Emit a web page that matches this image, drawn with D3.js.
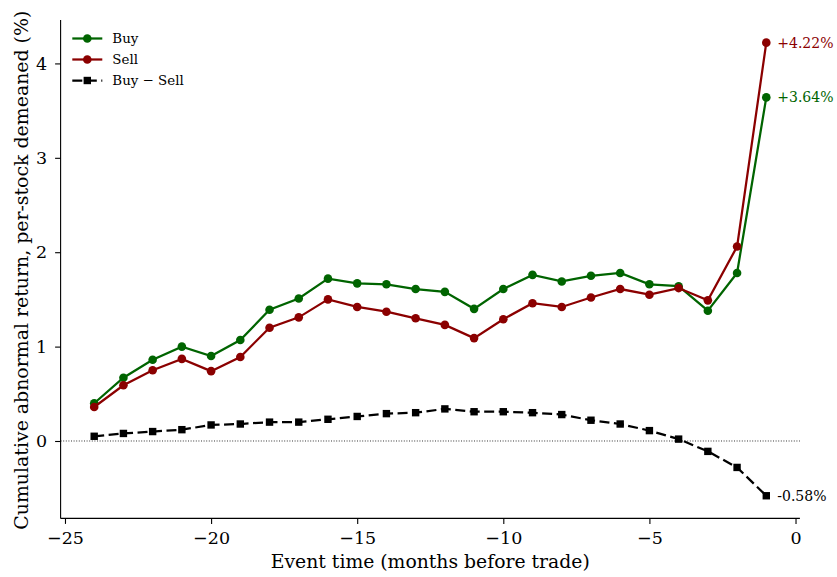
<!DOCTYPE html>
<html><head><meta charset="utf-8">
<script src="https://cdn.jsdelivr.net/npm/d3@7"></script>
<style>body{margin:0;background:#fff}svg{display:block}text{font-family:"DejaVu Serif",serif}</style>
</head><body>
<div id="chart"></div>
<script>
const months = [-24,-23,-22,-21,-20,-19,-18,-17,-16,-15,-14,-13,-12,-11,-10,-9,-8,-7,-6,-5,-4,-3,-2,-1];
const buy  = [0.40,0.67,0.86,1.00,0.90,1.07,1.39,1.51,1.72,1.67,1.66,1.61,1.58,1.40,1.61,1.76,1.69,1.75,1.78,1.66,1.64,1.38,1.78,3.64];
const sell = [0.36,0.59,0.75,0.87,0.74,0.89,1.20,1.31,1.50,1.42,1.37,1.30,1.23,1.09,1.29,1.46,1.42,1.52,1.61,1.55,1.62,1.49,2.06,4.22];
const diff = [0.05,0.08,0.10,0.12,0.17,0.18,0.20,0.20,0.23,0.26,0.29,0.30,0.34,0.31,0.31,0.30,0.28,0.22,0.18,0.11,0.02,-0.11,-0.28,-0.58];
const xTicks = [-25,-20,-15,-10,-5,0];
const yTicks = [0,1,2,3,4];
const seriesNames = ["Buy","Sell","Buy \u2212 Sell"];
const endLabels = ["+3.64%","+4.22%","-0.58%"];

const W = 837, H = 577;
const svg = d3.select("#chart").append("svg").attr("width", W).attr("height", H);
const x = d3.scaleLinear().domain([-25.15, 0.15]).range([60.6, 799.9]);
const y = d3.scaleLinear().domain([-0.82, 4.46]).range([518.4, 20]);

// zero line
svg.append("line").attr("x1", x(-25.15)).attr("x2", x(0.15)).attr("y1", y(0)).attr("y2", y(0))
  .attr("stroke", "#000").attr("stroke-width", 0.8).attr("stroke-dasharray", "1,1.6");

// axes
const xa = svg.append("g").attr("transform", `translate(0,${y(-0.82)})`)
  .call(d3.axisBottom(x).tickValues(xTicks).tickSize(5.5).tickPadding(7.5).tickFormat(d => d < 0 ? "\u2212" + Math.abs(d) : String(d)));
const ya = svg.append("g").attr("transform", `translate(${x(-25.15)},0)`)
  .call(d3.axisLeft(y).tickValues(yTicks).tickSize(5.5).tickPadding(8).tickFormat(d3.format("d")));
[xa, ya].forEach(g => {
  g.select(".domain").attr("stroke", "#000").attr("stroke-width", 1.1);
  g.selectAll(".tick line").attr("stroke", "#000").attr("stroke-width", 1.1);
  g.selectAll(".tick text").attr("font-family", "DejaVu Serif").attr("font-size", 17.5).attr("fill", "#000");
});
xa.select(".domain").attr("d", `M${x(-25.15)},0H${x(0.15)}`);
ya.select(".domain").attr("d", `M0,${y(-0.82)}V${y(4.46)}`);

svg.append("text").attr("x", (60.6 + 799.9) / 2).attr("y", 568).attr("text-anchor", "middle")
  .attr("font-size", 18.8).text("Event time (months before trade)");
svg.append("text").attr("transform", `translate(28,${(20 + 518.4) / 2 + 1}) rotate(-90)`).attr("text-anchor", "middle")
  .attr("font-size", 18.9).text("Cumulative abnormal return, per-stock demeaned (%)");

const series = [
  {name: seriesNames[0], vals: buy, color: "#006400", marker: "circle", dash: null, label: endLabels[0]},
  {name: seriesNames[1], vals: sell, color: "#8b0000", marker: "circle", dash: null, label: endLabels[1]},
  {name: seriesNames[2], vals: diff, color: "#000000", marker: "square", dash: "10,4.5", label: endLabels[2]}
];
const line = d3.line().x(d => x(d[0])).y(d => y(d[1]));
function drawMarker(g, kind, cx, cy, color) {
  if (kind === "circle") g.append("circle").attr("cx", cx).attr("cy", cy).attr("r", 4.3).attr("fill", color);
  else g.append("rect").attr("x", cx - 3.7).attr("y", cy - 3.7).attr("width", 7.4).attr("height", 7.4).attr("fill", color);
}
series.forEach(s => {
  const pts = months.map((m, i) => [m, s.vals[i]]);
  const g = svg.append("g");
  g.append("path").attr("d", line(pts)).attr("fill", "none").attr("stroke", s.color).attr("stroke-width", 2.25)
    .attr("stroke-dasharray", s.dash);
  pts.forEach(p => drawMarker(g, s.marker, x(p[0]), y(p[1]), s.color));
  const last = pts[pts.length - 1];
  svg.append("text").attr("x", x(last[0]) + 11).attr("y", y(last[1])).attr("dy", "0.35em")
    .attr("font-size", 14).attr("fill", s.color).text(s.label);
});

// legend
const lg = svg.append("g");
series.forEach((s, i) => {
  const cy = 38.5 + i * 21;
  lg.append("line").attr("x1", 72.3).attr("x2", 102.3).attr("y1", cy).attr("y2", cy)
    .attr("stroke", s.color).attr("stroke-width", 2.25).attr("stroke-dasharray", s.dash);
  drawMarker(lg, s.marker, 87.3, cy, s.color);
  lg.append("text").attr("x", 112.3).attr("y", cy).attr("dy", "0.35em").attr("font-size", 13.4).attr("fill", "#000").text(s.name);
});
</script>
</body></html>
